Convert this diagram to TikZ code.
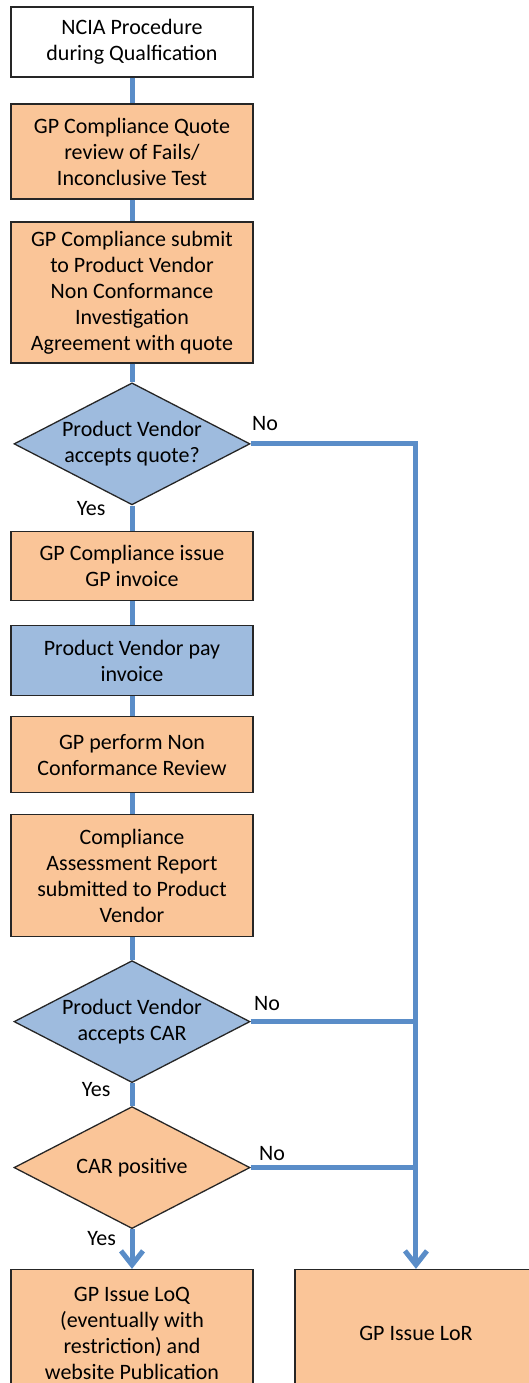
\documentclass[tikz,border=0pt]{standalone}
\usepackage{fontspec}
\setmainfont{Carlito}
\usepackage{tikz}
\usetikzlibrary{shapes.geometric,arrows.meta}
\definecolor{orangefill}{HTML}{FAC598}
\definecolor{bluefill}{HTML}{9EBBDE}
\definecolor{flowline}{HTML}{5A8DC8}
\definecolor{boxline}{HTML}{262626}
\tikzstyle{startbox} = [rectangle, draw=boxline, line width=1.3pt, fill=white, text centered, align=center, minimum width=242pt, font=\fontsize{22}{26}\selectfont]
\tikzstyle{process} = [startbox, fill=orangefill]
\tikzstyle{vendor} = [startbox, fill=bluefill]
\tikzstyle{decision} = [diamond, aspect=1.95, inner xsep=-8pt, inner ysep=0pt, draw=boxline, line width=1.3pt, fill=bluefill, text centered, align=center, minimum width=236pt, minimum height=122pt, font=\fontsize{22}{26}\selectfont]
\tikzstyle{check} = [decision, fill=orangefill]
\tikzstyle{answer} = [inner sep=0pt, font=\fontsize{22}{26}\selectfont]
\tikzstyle{link} = [line width=5pt, draw=flowline]
\tikzstyle{connector} = [link, -{Straight Barb[length=14pt,width=22pt]}]

\begin{document}
\begin{tikzpicture}
        \useasboundingbox (0,0) rectangle (528pt,-1383pt);
        \node (start) [startbox, minimum height=70pt] at (132pt,-42pt) {NCIA Procedure\\during Qualfication};
        \node (quote) [process, below of = start, yshift = -81pt, minimum height=95pt] {GP Compliance Quote\\review of Fails/\\Inconclusive Test};
        \node (submit) [process, below of = quote, yshift = -112.5pt, minimum height=141pt] {GP Compliance submit\\to Product Vendor\\Non Conformance\\Investigation\\Agreement with quote};
        \node (accept-quote) [decision, below of = submit, yshift = -123pt] {Product Vendor\\accepts quote?};
        \node (invoice) [process, below of = accept-quote, yshift = -94pt, minimum height=69pt] {GP Compliance issue\\GP invoice};
        \node (pay) [vendor, below of = invoice, yshift = -66pt, minimum height=70pt] {Product Vendor pay\\invoice};
        \node (review) [process, below of = pay, yshift = -65.5pt, minimum height=76pt] {GP perform Non\\Conformance Review};
        \node (report) [process, below of = review, yshift = -92.5pt, minimum height=122pt] {Compliance\\Assessment Report\\submitted to Product\\Vendor};
        \node (accept-car) [decision, below of = report, yshift = -117.5pt] {Product Vendor\\accepts CAR};
        \node (car-positive) [check, below of = accept-car, yshift = -117.5pt] {CAR positive};
        \node (loq) [process, below of = car-positive, yshift = -137.5pt, minimum height=128pt] {GP Issue LoQ\\(eventually with\\restriction) and\\website Publication};
        \node (lor) [process, right of = loq, xshift = 255.5pt, minimum height=128pt] {GP Issue LoR};
        \draw [link] (start) -- (quote);
        \draw [link] (quote) -- (submit);
        \draw [link] (submit) -- (accept-quote);
        \draw [link] (accept-quote) -- node[answer, pos=0, anchor=base east, xshift=-24pt, yshift=-10pt] {Yes} (invoice);
        \draw [link] (invoice) -- (pay);
        \draw [link] (pay) -- (review);
        \draw [link] (review) -- (report);
        \draw [link] (report) -- (accept-car);
        \draw [link] (accept-car) -- node[answer, pos=0, anchor=base east, xshift=-19pt, yshift=-13.5pt] {Yes} (car-positive);
        \draw [connector] (car-positive) -- node[answer, pos=0, anchor=base east, xshift=-13.5pt, yshift=-16pt] {Yes} (loq);
        \draw [connector] (accept-quote.east) -| node[answer, pos=0, anchor=base west, xshift=-1pt, yshift=13pt] {No} (lor.north);
        \draw [link] (accept-car.east) -- node[answer, pos=0, anchor=base west, xshift=1pt, yshift=11pt] {No} (accept-car.east -| lor.north);
        \draw [link] (car-positive.east) -- node[answer, pos=0, anchor=base west, xshift=6pt, yshift=7pt] {No} (car-positive.east -| lor.north);
    \end{tikzpicture}
\end{document}
